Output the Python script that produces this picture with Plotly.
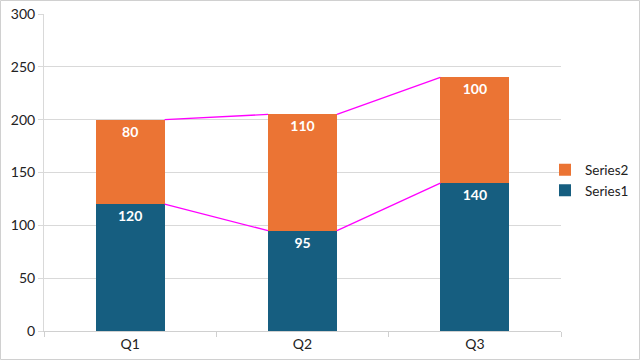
import plotly.graph_objects as go

categories = ["Q1", "Q2", "Q3"]
series1 = [120, 95, 140]
series2 = [80, 110, 100]
y_ticks = [0, 50, 100, 150, 200, 250, 300]

BAR_W = 0.4
xs = list(range(len(categories)))
totals = [a + b for a, b in zip(series1, series2)]

fig = go.Figure()
fig.add_trace(go.Bar(x=xs, y=series1, name="Series1", width=BAR_W,
                     marker=dict(color="#165E80", line=dict(width=0)),
                     text=[str(v) for v in series1], textposition="inside",
                     insidetextanchor="end",
                     textfont=dict(color="white", size=14, family="Lato", weight="bold")))
fig.add_trace(go.Bar(x=xs, y=series2, name="Series2", width=BAR_W,
                     marker=dict(color="#EB7434", line=dict(width=0)),
                     text=[str(v) for v in series2], textposition="inside",
                     insidetextanchor="end",
                     textfont=dict(color="white", size=14, family="Lato", weight="bold")))

# series lines between stacks
for tops in (series1, totals):
    lx, ly = [], []
    for i in range(len(xs) - 1):
        lx += [xs[i] + BAR_W / 2, xs[i + 1] - BAR_W / 2, None]
        ly += [tops[i], tops[i + 1], None]
    fig.add_trace(go.Scatter(x=lx, y=ly, mode="lines", showlegend=False,
                             line=dict(color="#FF00FF", width=1.3), hoverinfo="skip"))

L, R, T, B = 44, 80, 14, 30
W, H = 641, 361
pw, ph = W - L - R, H - T - B

fig.update_layout(
    width=W, height=H, barmode="stack",
    margin=dict(l=L, r=R, t=T, b=B, autoexpand=False),
    plot_bgcolor="white", paper_bgcolor="white",
    font=dict(family="Lato", size=14, color="#222222"),
    legend=dict(xref="container", yref="container", x=545 / W, y=0.5,
                yanchor="middle", xanchor="left", bgcolor="rgba(0,0,0,0)",
                traceorder="reversed", font=dict(size=13.5, color="#222222"),
                itemwidth=30, tracegroupgap=4),
    xaxis=dict(range=[-0.5, len(categories) - 0.5], tickvals=xs, ticktext=categories,
               showgrid=False, zeroline=False, showline=True, linecolor="#D0D0D0",
               ticks="", ticklen=0, automargin=False,
               minor=dict(tickvals=[i - 0.5 for i in range(len(categories) + 1)],
                          ticks="outside", ticklen=5, tickcolor="#D0D0D0")),
    yaxis=dict(range=[0, 300], tickvals=y_ticks, showgrid=True, gridcolor="#D9D9D9",
               zeroline=False, showline=True, linecolor="#D9D9D9", automargin=False,
               ticks="outside", ticklen=5, tickcolor="#D9D9D9"),
    shapes=[dict(type="rect", xref="paper", yref="paper",
                 x0=(0.5 - L) / pw, x1=(W - 1.5 - L) / pw,
                 y0=-(B - 1.5) / ph, y1=1 + (T - 0.5) / ph,
                 line=dict(color="#D0D0D0", width=1), layer="below")],
)

fig.write_html("out.html")
